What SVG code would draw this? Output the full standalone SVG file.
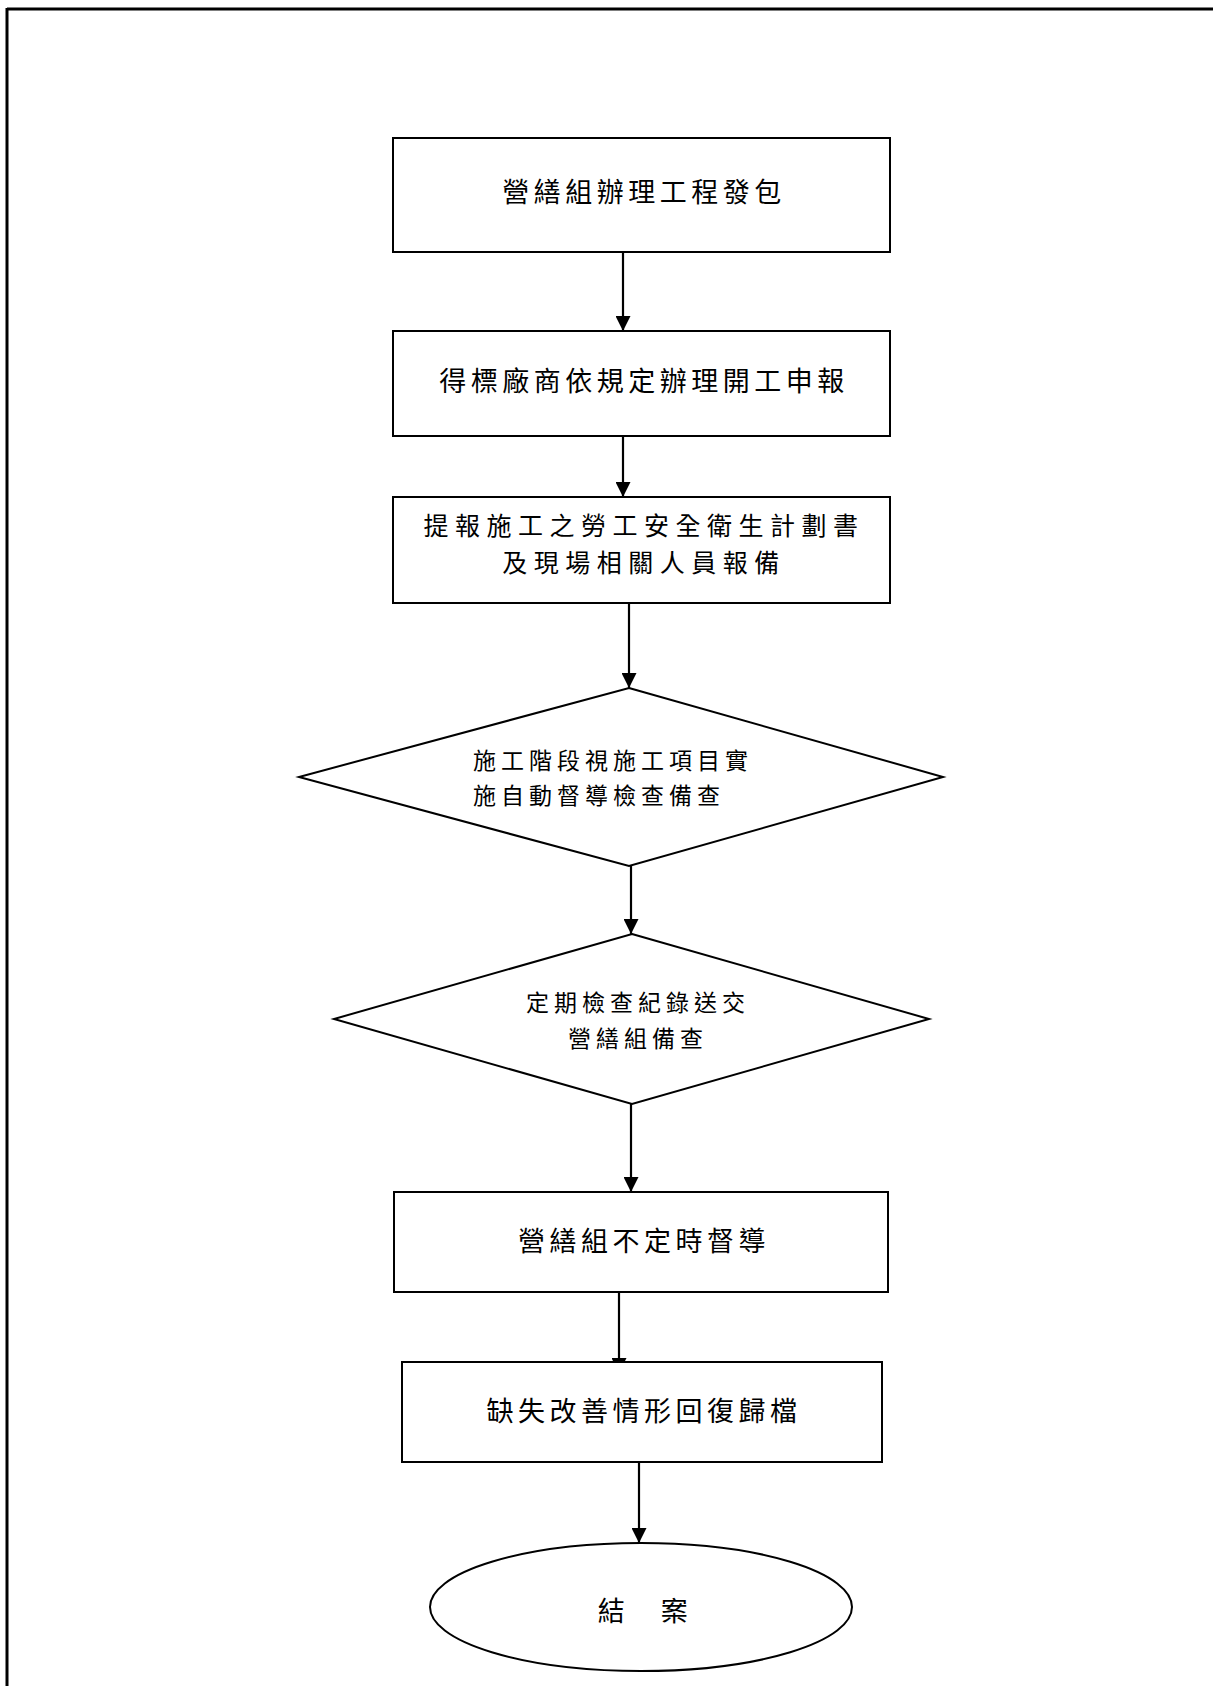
<svg xmlns="http://www.w3.org/2000/svg" width="1213" height="1686" viewBox="0 0 1213 1686">
<defs>
<style>
.shape{fill:#fff;stroke:#000;stroke-width:2}
.conn{stroke:#000;stroke-width:2.2;fill:none}
.t{font-family:"Noto Sans CJK TC","Noto Sans CJK SC",sans-serif;font-size:27px;letter-spacing:4.5px;fill:#000;dominant-baseline:central}
.t2{font-size:25px;letter-spacing:6.5px}
.d{font-family:"Noto Sans CJK TC","Noto Sans CJK SC",sans-serif;font-size:23px;letter-spacing:5px;fill:#000;dominant-baseline:central}
.m{text-anchor:middle}
</style>
<marker id="ah" viewBox="0 0 10 10" refX="10" refY="5" markerWidth="15" markerHeight="15" markerUnits="userSpaceOnUse" orient="auto">
<path d="M0,0 L10,5 L0,10 Z" fill="#000"/>
</marker>
</defs>
<rect width="1213" height="1686" fill="#fff"/>
<g id="frame">
<line x1="7" y1="9" x2="1213" y2="9" stroke="#000" stroke-width="3"/>
<line x1="7" y1="8" x2="7" y2="1686" stroke="#000" stroke-width="3"/>
</g>
<g id="connectors">
<line class="conn" x1="623" y1="252" x2="623" y2="331" marker-end="url(#ah)"/>
<line class="conn" x1="623" y1="436" x2="623" y2="497" marker-end="url(#ah)"/>
<line class="conn" x1="629" y1="603" x2="629" y2="688" marker-end="url(#ah)"/>
<line class="conn" x1="631" y1="866" x2="631" y2="934" marker-end="url(#ah)"/>
<line class="conn" x1="631" y1="1104" x2="631" y2="1192" marker-end="url(#ah)"/>
<line class="conn" x1="619" y1="1292" x2="619" y2="1373" marker-end="url(#ah)"/>
<line class="conn" x1="639" y1="1462" x2="639" y2="1543" marker-end="url(#ah)"/>
</g>
<g id="n1">
<rect class="shape" x="393" y="138" width="497" height="114"/>
<text class="t m" x="644" y="190">營繕組辦理工程發包</text>
</g>
<g id="n2">
<rect class="shape" x="393" y="331" width="497" height="105"/>
<text class="t m" x="644" y="379">得標廠商依規定辦理開工申報</text>
</g>
<g id="n3">
<rect class="shape" x="393" y="497" width="497" height="106"/>
<text class="t t2 m"><tspan x="644" y="524">提報施工之勞工安全衛生計劃書</tspan><tspan x="644" y="561">及現場相關人員報備</tspan></text>
</g>
<g id="n4">
<polygon class="shape" points="629,688 943,777 629,866 299,777"/>
<text class="d"><tspan x="473" y="759">施工階段視施工項目實</tspan><tspan x="473" y="794">施自動督導檢查備查</tspan></text>
</g>
<g id="n5">
<polygon class="shape" points="632,934 929,1019 632,1104 334,1019"/>
<text class="d m"><tspan x="638" y="1001">定期檢查紀錄送交</tspan><tspan x="638" y="1037">營繕組備查</tspan></text>
</g>
<g id="n6">
<rect class="shape" x="394" y="1192" width="494" height="100"/>
<text class="t m" x="644" y="1239">營繕組不定時督導</text>
</g>
<g id="n7">
<rect class="shape" x="402" y="1362" width="480" height="100"/>
<text class="t m" x="644" y="1409">缺失改善情形回復歸檔</text>
</g>
<g id="n8">
<ellipse class="shape" cx="641" cy="1607" rx="211" ry="64"/>
<text class="t m" x="645" y="1609">結　案</text>
</g>
</svg>
